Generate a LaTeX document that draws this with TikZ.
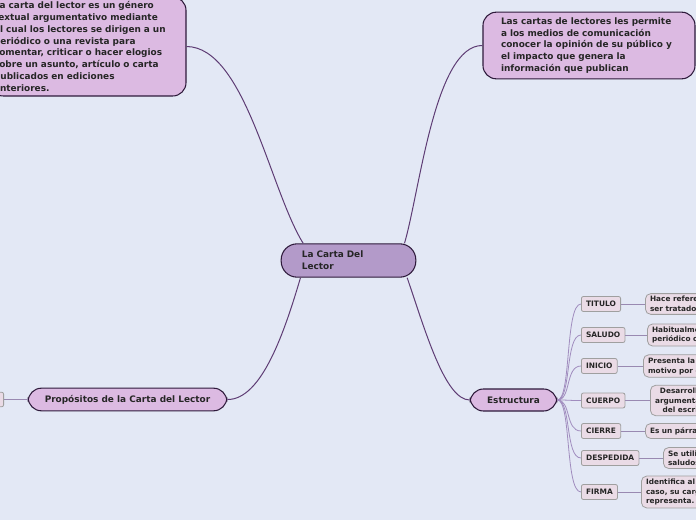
\documentclass[tikz,border=0pt]{standalone}
\usepackage{fontspec}
\setmainfont{DejaVu Sans}
\definecolor{bgblue}{HTML}{E3E8F5}
\definecolor{lav}{HTML}{DCBAE2}
\definecolor{midlav}{HTML}{B39AC9}
\definecolor{dkline}{HTML}{2E1A3B}
\definecolor{branchcol}{HTML}{5E3C74}
\definecolor{twigcol}{HTML}{A08CBE}
\definecolor{pinkgray}{HTML}{EADBE6}
\tikzset{
  topic/.style={draw=dkline, fill=lav, rounded corners=10pt, line width=0.8pt,
    font=\bfseries\fontsize{6.7}{8.8}\selectfont, text=black!85},
  central/.style={topic, fill=midlav, rounded corners=12pt},
  partbox/.style={draw=gray!75, fill=pinkgray, rounded corners=1.5pt, line width=0.6pt,
    anchor=west, minimum height=11.25pt, inner xsep=3.5pt, inner ysep=1pt,
    font=\bfseries\fontsize{5.6}{6.8}\selectfont, text=black!85},
  detailbox/.style={partbox, rounded corners=4pt, inner ysep=2pt, align=left,
    font=\bfseries\fontsize{5.5}{7.3}\selectfont},
  branch/.style={draw=branchcol, line width=0.75pt},
  twig/.style={draw=twigcol, line width=0.6pt},
  leaf/.style={draw=twigcol!80!gray, line width=0.6pt}
}
\begin{document}
\begin{tikzpicture}[x=0.75pt, y=-0.75pt]
    \useasboundingbox (0,0) rectangle (696,520);
    \fill[bgblue] (0,0) rectangle (696,520);
    \clip (0,0) rectangle (696,520);

    \node[central, minimum width=101pt, minimum height=25pt, text width=70pt, align=left]
      (central) at (348.5,260.5) {La Carta Del\\Lector};

    \node[topic, minimum width=147pt, minimum height=74.25pt, text width=141pt,
      inner xsep=3pt, align=left] (lector) at (88,46.5)
      {La carta del lector es un género\\textual argumentativo mediante\\el cual los lectores se dirigen a un\\periódico o una revista para\\comentar, criticar o hacer elogios\\sobre un asunto, artículo o carta\\publicados en ediciones\\anteriores.};

    \node[topic, minimum width=159pt, minimum height=50pt, text width=132pt, align=left]
      (permite) at (589,45.5)
      {Las cartas de lectores les permite\\a los medios de comunicación\\conocer la opinión de su público y\\el impacto que genera la\\información que publican};

    \node[topic, minimum width=149pt, minimum height=17pt] (propositos) at (127.5,399.5)
      {Propósitos de la Carta del Lector};
    \node[partbox, anchor=east, minimum width=30pt, minimum height=11pt] (propchild) at (4,399.5) {};

    \node[topic, minimum width=65pt, minimum height=16.5pt] (estructura) at (513.5,400)
      {Estructura};

    \draw[branch] (lector.east) .. controls (245,47) and (270,190) .. ([xshift=-34pt]central.north);
    \draw[branch] (permite.west) .. controls (435,45) and (420,190) .. ([xshift=42pt]central.north);
    \draw[branch] ([xshift=-36pt]central.south) .. controls (285,330) and (262,400) .. (propositos.east);
    \draw[branch] ([xshift=44pt]central.south) .. controls (425,330) and (445,400) .. (estructura.west);
    \draw[leaf] (propchild.east) -- (propositos.west);

    \foreach \n/\t/\y in {titulo/TITULO/304, saludo/SALUDO/335, inicio/INICIO/366,
        cuerpo/CUERPO/400.5, cierre/CIERRE/431, despedida/DESPEDIDA/458, firma/FIRMA/492} {
      \node[partbox] (\n) at (581,\y) {\t};
      \draw[twig] (estructura.east) .. controls +(14,0) and +(-16,0) .. (\n.west);
    }

    \foreach \n/\x/\t in {titulo/645/{Hace referencia al tema a\\ser tratado en la carta},
        saludo/647/{Habitualmente dirigido al\\periódico o revista},
        inicio/643/{Presenta la situación o el\\motivo por el cual se escribe},
        cierre/645/{Es un párrafo de conclusión},
        despedida/663/{Se utilizan fórmulas de\\saludos finales},
        firma/641/{Identifica al autor y en su\\caso, su cargo o a quién\\representa.}} {
      \node[detailbox] (\n d) at (\x,0 |- \n.west) {\t};
      \draw[leaf] (\n.east) -- (\n d.west);
    }
    \node[detailbox, align=center] (cuerpo d) at (650,0 |- cuerpo.west)
      {Desarrolla la\\argumentación\\del escritor};
    \draw[leaf] (cuerpo.east) -- (cuerpo d.west);
  \end{tikzpicture}
\end{document}
